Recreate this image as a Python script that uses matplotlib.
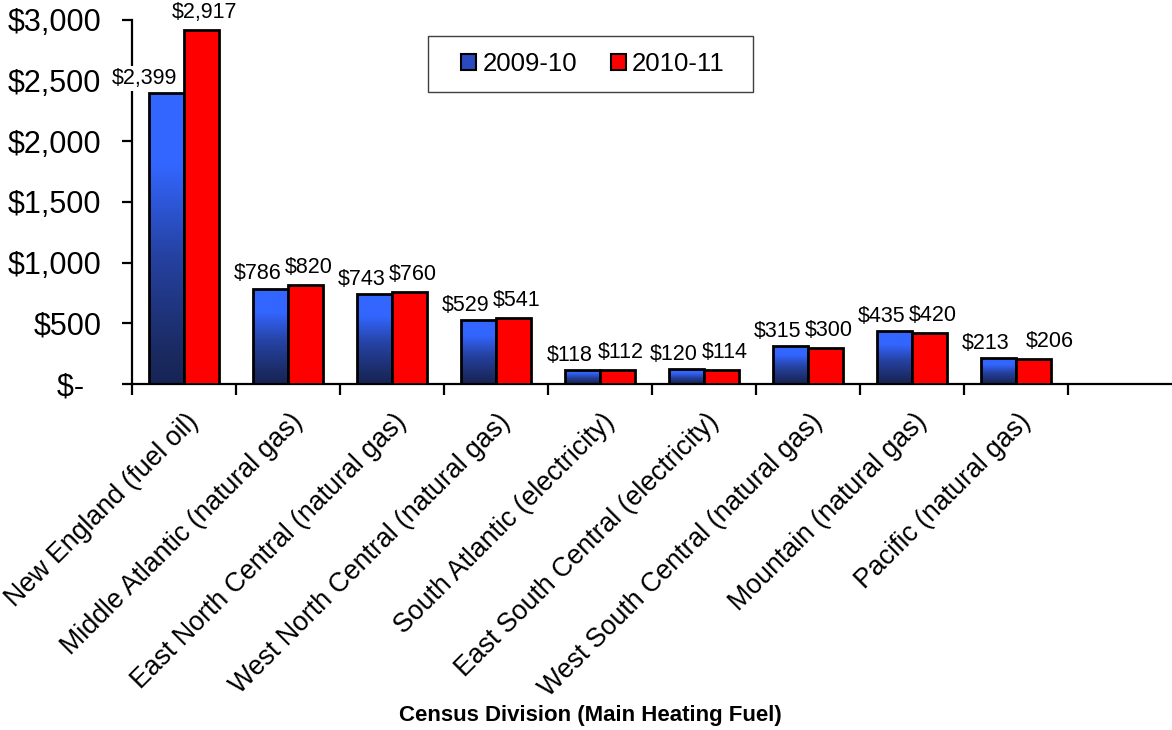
import matplotlib as mpl
import matplotlib.pyplot as plt
import numpy as np
from matplotlib.colors import LinearSegmentedColormap
from matplotlib.patches import Patch, Rectangle

plt.rcParams['font.family'] = ['Liberation Sans', 'DejaVu Sans']

divisions = ['New England (fuel oil)', 'Middle Atlantic (natural gas)',
             'East North Central (natural gas)', 'West North Central (natural gas)',
             'South Atlantic (electricity)', 'East South Central (electricity)',
             'West South Central (natural gas)', 'Mountain (natural gas)',
             'Pacific (natural gas)']
cost_2009 = [2399, 786, 743, 529, 118, 120, 315, 435, 213]
cost_2010 = [2917, 820, 760, 541, 112, 114, 300, 420, 206]
series_names = ['2009-10', '2010-11']

blue_grad = LinearSegmentedColormap.from_list(
    'bg', [(0, '#172456'), (0.1, '#1a2960'), (0.45, '#2643a4'), (0.75, '#3366ff'), (1, '#3366ff')])

fig = plt.figure(figsize=(11.72, 7.3), dpi=100)
ax = fig.add_axes([132 / 1172, 1 - 384 / 730, 1 - 132 / 1172, 364 / 730])

x = np.arange(len(divisions))
w = 0.337

bars_b = ax.bar(x - w / 2, cost_2009, w, color='none', edgecolor='black', linewidth=2, zorder=3)
bars_r = ax.bar(x + w / 2, cost_2010, w, color='#ff0000', edgecolor='black', linewidth=2, zorder=3)

# gradient fill for the blue bars
grad = np.linspace(0, 1, 256).reshape(-1, 1)
for b in bars_b:
    x0, h = b.get_x(), b.get_height()
    im = ax.imshow(grad, cmap=blue_grad, origin='lower', aspect='auto',
                   extent=[x0, x0 + b.get_width(), 0, h], zorder=2)
    im.set_clip_path(b)

ax.set_xlim(-0.5, 9.5)
ax.set_ylim(0, 3000)

# data labels
for i, v in enumerate(cost_2009):
    dx = -16 if i == 0 else -9
    ax.annotate(f'${v:,}', (x[i] - w / 2, v), xytext=(dx, 3), textcoords='offset points',
                ha='center', va='bottom', fontsize=15.5, zorder=6,
                bbox=dict(boxstyle='square,pad=0.1', fc='white', ec='none') if i == 0 else None)
for i, v in enumerate(cost_2010):
    dx = 2 if i < 8 else 12
    ax.annotate(f'${v:,}', (x[i] + w / 2, v), xytext=(dx, 5), textcoords='offset points',
                ha='center', va='bottom', fontsize=15.5, zorder=6)

# axes styling
for s in ['top', 'right']:
    ax.spines[s].set_visible(False)
ax.spines['left'].set_linewidth(1.6)
ax.spines['bottom'].set_linewidth(1.6)
ax.spines['left'].set_zorder(1)

yt = [0, 500, 1000, 1500, 2000, 2500, 3000]
ax.set_yticks(yt)
ax.set_yticklabels(['$-  '] + [f'${t:,}' for t in yt[1:]], fontsize=22)
ax.tick_params(axis='y', length=7, width=1.6, pad=15)

ax.set_xticks(np.arange(-0.5, 9.0, 1.0))
ax.set_xticklabels([])
ax.tick_params(axis='x', length=8, width=1.6)
for i, name in enumerate(divisions):
    ax.text(x[i] + 0.1, -280, name, rotation=45, rotation_mode='anchor',
            ha='right', va='center', fontsize=19.3, transform=ax.transData, clip_on=False)

fig.text(590 / 1172, 1 - 715 / 730, 'Census Division (Main Heating Fuel)',
         ha='center', va='center', fontsize=16, fontweight='bold')

# legend with a hand-placed frame
handles = [Patch(facecolor='#2a4bbf', edgecolor='black', linewidth=1.5),
           Patch(facecolor='#ff0000', edgecolor='black', linewidth=1.5)]
leg = ax.legend(handles, series_names, loc='center', bbox_to_anchor=(593 / 1172, 1 - 64 / 730),
                bbox_transform=fig.transFigure, ncol=2, fontsize=18.5, frameon=False,
                handlelength=0.58, handleheight=0.58, handletextpad=0.25,
                columnspacing=1.3, borderpad=0.3, borderaxespad=0)
fig.patches.append(Rectangle((428 / 1172, 1 - 92 / 730), 325 / 1172, 56 / 730,
                             transform=fig.transFigure, fill=False, edgecolor='#404040',
                             linewidth=1.0))

fig.savefig('out.png', dpi=100)
